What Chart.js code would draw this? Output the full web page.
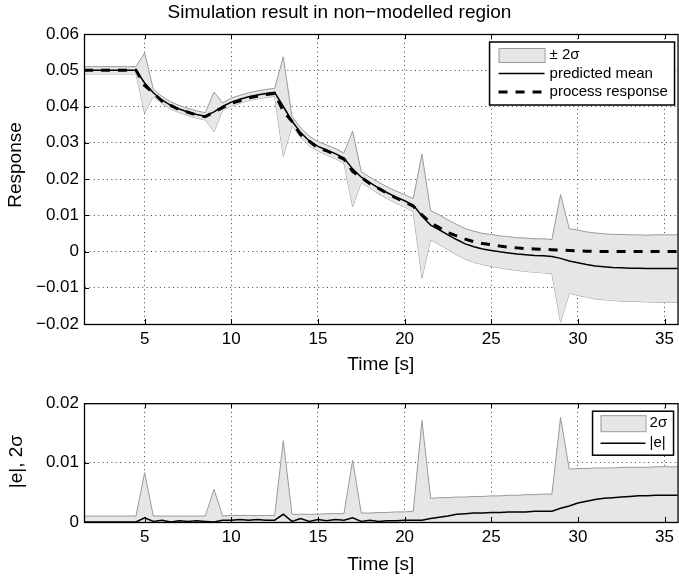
<!DOCTYPE html>
<html>
<head>
<meta charset="utf-8">
<script src="https://cdn.jsdelivr.net/npm/chart.js@4.4.1/dist/chart.umd.min.js"></script>
<style>
  html, body { margin: 0; padding: 0; background: #fff; }
  #wrap { position: relative; width: 679px; height: 581px; }
  canvas { position: absolute; left: 0; }
</style>
</head>
<body>
<div id="wrap">
  <canvas id="resp" width="679" height="388" style="top:0"></canvas>
  <canvas id="err" width="679" height="193" style="top:388px"></canvas>
</div>
<script>
// data (sample time 0.5 s)
const time = [1.5, 2, 2.5, 3, 3.5, 4, 4.5, 5, 5.5, 6, 6.5, 7, 7.5, 8, 8.5, 9, 9.5, 10, 10.5, 11,
  11.5, 12, 12.5, 13, 13.5, 14, 14.5, 15, 15.5, 16, 16.5, 17, 17.5, 18, 18.5, 19, 19.5, 20, 20.5, 21,
  21.5, 22, 22.5, 23, 23.5, 24, 24.5, 25, 25.5, 26, 26.5, 27, 27.5, 28, 28.5, 29, 29.5, 30, 30.5, 31,
  31.5, 32, 32.5, 33, 33.5, 34, 34.5, 35, 35.5, 36];

const predictedMean = [0.0500, 0.0500, 0.0500, 0.0500, 0.0500, 0.0500, 0.0500, 0.0465, 0.0438, 0.0418,
  0.0403, 0.0393, 0.0385, 0.0378, 0.0373, 0.0385, 0.0400, 0.0412, 0.0420, 0.0427,
  0.0432, 0.0436, 0.0439, 0.0400, 0.0360, 0.0328, 0.0305, 0.0290, 0.0280, 0.0270,
  0.0258, 0.0228, 0.0205, 0.0190, 0.0175, 0.0162, 0.0150, 0.0140, 0.0128, 0.0098,
  0.0073, 0.0060, 0.0046, 0.0033, 0.0021, 0.0013, 0.0007, 0.0003, -0.0001, -0.0004,
  -0.0007, -0.0009, -0.0011, -0.0012, -0.0014, -0.0019, -0.0026, -0.0031, -0.0036, -0.0040,
  -0.0042, -0.0044, -0.0045, -0.0046, -0.0046, -0.0047, -0.0047, -0.0047, -0.0047, -0.0047];

const processResponse = [0.0500, 0.0500, 0.0500, 0.0500, 0.0500, 0.0500, 0.0500, 0.0458, 0.0437, 0.0415,
  0.0403, 0.0391, 0.0384, 0.0376, 0.0372, 0.0385, 0.0397, 0.0409, 0.0416, 0.0424,
  0.0428, 0.0433, 0.0436, 0.0387, 0.0359, 0.0322, 0.0304, 0.0286, 0.0278, 0.0266,
  0.0255, 0.0221, 0.0204, 0.0187, 0.0174, 0.0160, 0.0148, 0.0137, 0.0125, 0.0101,
  0.0079, 0.0066, 0.0052, 0.0043, 0.0034, 0.0027, 0.0022, 0.0019, 0.0015, 0.0012,
  0.0010, 0.0008, 0.0007, 0.0006, 0.0005, 0.0004, 0.0003, 0.0002, 0.0001, 0.0000,
  0.0000, 0.0000, 0.0000, 0.0000, 0.0000, 0.0000, 0.0000, 0.0000, 0.0000, 0.0000];

const twoSigma = [0.0010, 0.0010, 0.0010, 0.0010, 0.0010, 0.0010, 0.0010, 0.0083, 0.0010, 0.0010,
  0.0010, 0.0010, 0.0010, 0.0010, 0.0010, 0.0055, 0.0010, 0.0011, 0.0011, 0.0011,
  0.0011, 0.0011, 0.0011, 0.0137, 0.0013, 0.0013, 0.0013, 0.0013, 0.0014, 0.0014,
  0.0014, 0.0104, 0.0015, 0.0015, 0.0016, 0.0016, 0.0017, 0.0017, 0.0018, 0.0171,
  0.0040, 0.0041, 0.0041, 0.0042, 0.0042, 0.0043, 0.0043, 0.0044, 0.0044, 0.0045,
  0.0045, 0.0046, 0.0046, 0.0047, 0.0047, 0.0176, 0.0089, 0.0090, 0.0090, 0.0091,
  0.0091, 0.0091, 0.0092, 0.0092, 0.0092, 0.0092, 0.0093, 0.0093, 0.0093, 0.0093];

const absError = [0, 0, 0, 0, 0, 0, 0, 0.0007, 0.0001, 0.0003,
  0.0000, 0.0002, 0.0001, 0.0002, 0.0001, 0.0000, 0.0003, 0.0003, 0.0004, 0.0003,
  0.0004, 0.0003, 0.0003, 0.0013, 0.0001, 0.0006, 0.0001, 0.0004, 0.0002, 0.0004,
  0.0003, 0.0007, 0.0001, 0.0003, 0.0001, 0.0002, 0.0002, 0.0003, 0.0003, 0.0003,
  0.0006, 0.0008, 0.0010, 0.0013, 0.0014, 0.0015, 0.0015, 0.0016, 0.0016, 0.0017,
  0.0017, 0.0017, 0.0018, 0.0018, 0.0018, 0.0023, 0.0027, 0.0032, 0.0035, 0.0038,
  0.0040, 0.0041, 0.0042, 0.0043, 0.0044, 0.0044, 0.0045, 0.0045, 0.0045, 0.0045];

const timeTicks = [5, 10, 15, 20, 25, 30, 35];
const responseTicks = [-0.02, -0.01, 0, 0.01, 0.02, 0.03, 0.04, 0.05, 0.06];
const errorTicks = [0, 0.01, 0.02];

const BAND_FILL = '#e6e6e6';
const BAND_EDGE = '#9a9a9a';
const FONT = '"Liberation Sans", Arial, sans-serif';

Chart.defaults.font.family = FONT;
Chart.defaults.color = '#000';

const pts = (ys) => time.map((t, i) => ({ x: t, y: ys[i] }));

function fmt(v) {
  if (Math.abs(v) < 1e-9) return '0';
  return (v < 0 ? '\u2212' : '') + Math.abs(v).toFixed(2);
}

// box, inward tick marks, y label and matlab-like legend
const framePlugin = {
  id: 'frame',
  afterDatasetsDraw(chart, args, opts) {
    const { ctx, chartArea: a } = chart;
    const xs = chart.scales.x, ys = chart.scales.y;
    ctx.save();
    ctx.strokeStyle = '#000';
    ctx.lineWidth = 1;
    ctx.beginPath();
    xs.ticks.forEach(t => {
      const px = Math.round(xs.getPixelForValue(t.value)) + 0.5;
      ctx.moveTo(px, a.bottom); ctx.lineTo(px, a.bottom - 5);
      ctx.moveTo(px, a.top); ctx.lineTo(px, a.top + 5);
    });
    ys.ticks.forEach(t => {
      const py = Math.round(ys.getPixelForValue(t.value)) + 0.5;
      ctx.moveTo(a.left, py); ctx.lineTo(a.left + 5, py);
    });
    ctx.stroke();
    ctx.lineWidth = 1.3;
    ctx.strokeRect(a.left + 0.5, a.top + 0.5, a.right - a.left, a.bottom - a.top);

    // y label (matlab puts it a little off the axis centre)
    if (opts.yLabel) {
      ctx.translate(opts.yLabel.x, (a.top + a.bottom) / 2 + opts.yLabel.shift);
      ctx.rotate(-Math.PI / 2);
      ctx.font = '19px ' + FONT;
      ctx.fillStyle = '#000';
      ctx.textAlign = 'center';
      ctx.textBaseline = 'middle';
      ctx.fillText(opts.yLabel.text, 0, 0);
    }
    ctx.restore();

    const L = opts.legend;
    if (!L) return;
    const x0 = a.right - L.right - L.width, y0 = a.top + L.top;
    ctx.save();
    ctx.fillStyle = '#fff';
    ctx.fillRect(x0, y0, L.width, L.height);
    ctx.strokeStyle = '#000';
    ctx.lineWidth = 1.5;
    ctx.strokeRect(x0, y0, L.width, L.height);
    ctx.font = L.fontSize + 'px ' + FONT;
    ctx.textBaseline = 'middle';
    L.items.forEach((it, i) => {
      const cy = y0 + L.firstRow + i * L.rowGap;
      const sx = x0 + L.swatchX;
      if (it.kind === 'patch') {
        ctx.fillStyle = BAND_FILL;
        ctx.fillRect(sx, cy - L.patchH / 2, L.swatchW, L.patchH);
        ctx.strokeStyle = BAND_EDGE;
        ctx.lineWidth = 1;
        ctx.setLineDash([]);
        ctx.strokeRect(sx + 0.5, cy - L.patchH / 2 + 0.5, L.swatchW, L.patchH);
      } else {
        ctx.strokeStyle = '#000';
        ctx.lineWidth = it.width;
        ctx.setLineDash(it.dash || []);
        ctx.beginPath();
        ctx.moveTo(sx, cy); ctx.lineTo(sx + L.swatchW, cy);
        ctx.stroke();
        ctx.setLineDash([]);
      }
      ctx.fillStyle = '#000';
      ctx.fillText(it.label, x0 + L.textX, cy);
    });
    ctx.restore();
  }
};

function xAxis(height, titlePadBottom) {
  return {
    type: 'linear',
    min: 1.5,
    max: 35.75,
    afterBuildTicks: (s) => { s.ticks = timeTicks.map(v => ({ value: v })); },
    afterFit: (s) => { s.height = height; },
    ticks: { font: { size: 17 }, padding: 5, maxRotation: 0, autoSkip: false },
    grid: { color: '#444', lineWidth: 1, drawTicks: false },
    border: { color: '#000', width: 1, dash: [1, 3.4] },
    title: { display: true, text: 'Time [s]', font: { size: 19 }, padding: { top: 0, bottom: titlePadBottom } }
  };
}

function yAxis(min, max, tickList) {
  return {
    min: min,
    max: max,
    afterBuildTicks: (s) => { s.ticks = tickList.map(v => ({ value: v })); },
    afterFit: (s) => { s.width = 84; },
    ticks: { font: { size: 17 }, padding: 5, callback: (v) => fmt(v) },
    grid: { color: '#444', lineWidth: 1, drawTicks: false },
    border: { color: '#000', width: 1, dash: [1, 3.4] },
    title: { display: false }
  };
}

new Chart(document.getElementById('resp'), {
  type: 'line',
  data: {
    datasets: [
      {
        label: 'upper',
        data: time.map((t, i) => ({ x: t, y: predictedMean[i] + twoSigma[i] })),
        fill: '+1',
        backgroundColor: BAND_FILL,
        borderColor: BAND_EDGE,
        borderWidth: 1,
        pointRadius: 0,
        order: 3
      },
      {
        label: 'lower',
        data: time.map((t, i) => ({ x: t, y: predictedMean[i] - twoSigma[i] })),
        fill: false,
        borderColor: BAND_EDGE,
        borderWidth: 1,
        pointRadius: 0,
        order: 3
      },
      {
        label: 'predicted mean',
        data: pts(predictedMean),
        borderColor: '#000',
        borderWidth: 1.5,
        pointRadius: 0,
        fill: false,
        order: 1
      },
      {
        label: 'process response',
        data: pts(processResponse),
        borderColor: '#000',
        borderWidth: 3,
        borderDash: [9, 8],
        pointRadius: 0,
        fill: false,
        order: 0
      }
    ]
  },
  options: {
    responsive: false,
    animation: false,
    layout: { padding: 0 },
    scales: {
      x: xAxis(64, 11.6),
      y: yAxis(-0.02, 0.06, responseTicks)
    },
    plugins: {
      legend: { display: false },
      tooltip: { enabled: false },
      title: {
        display: true,
        text: 'Simulation result in non\u2212modelled region',
        font: { size: 19, weight: 'normal' },
        color: '#000',
        padding: { top: 1.2, bottom: 10 }
      },
      frame: {
        yLabel: { text: 'Response', x: 15.5, shift: -14 },
        legend: {
          right: 3, top: 8, width: 185, height: 63,
          firstRow: 13, rowGap: 18.5, swatchX: 9, swatchW: 46, patchH: 14, textX: 60, fontSize: 15,
          items: [
            { kind: 'patch', label: '\u00b1 2\u03c3' },
            { kind: 'line', label: 'predicted mean', width: 1.5 },
            { kind: 'line', label: 'process response', width: 3, dash: [9, 8] }
          ]
        }
      }
    }
  },
  plugins: [framePlugin]
});

new Chart(document.getElementById('err'), {
  type: 'line',
  data: {
    datasets: [
      {
        label: '2\u03c3',
        data: pts(twoSigma),
        fill: 'origin',
        backgroundColor: BAND_FILL,
        borderColor: BAND_EDGE,
        borderWidth: 1,
        pointRadius: 0,
        order: 2
      },
      {
        label: '|e|',
        data: pts(absError),
        borderColor: '#000',
        borderWidth: 1.5,
        pointRadius: 0,
        fill: false,
        order: 0
      }
    ]
  },
  options: {
    responsive: false,
    animation: false,
    layout: { padding: { top: 13, left: 0, right: 0, bottom: 0 } },
    scales: {
      x: xAxis(59, 4.6),
      y: yAxis(0, 0.02, errorTicks)
    },
    plugins: {
      legend: { display: false },
      tooltip: { enabled: false },
      frame: {
        yLabel: { text: '|e|, 2\u03c3', x: 16.5, shift: -1 },
        legend: {
          right: 4, top: 8, width: 81, height: 44,
          firstRow: 12, rowGap: 20, swatchX: 8, swatchW: 45, patchH: 16, textX: 57, fontSize: 15,
          items: [
            { kind: 'patch', label: '2\u03c3' },
            { kind: 'line', label: '|e|', width: 1.5 }
          ]
        }
      }
    }
  },
  plugins: [framePlugin]
});
</script>
</body>
</html>
